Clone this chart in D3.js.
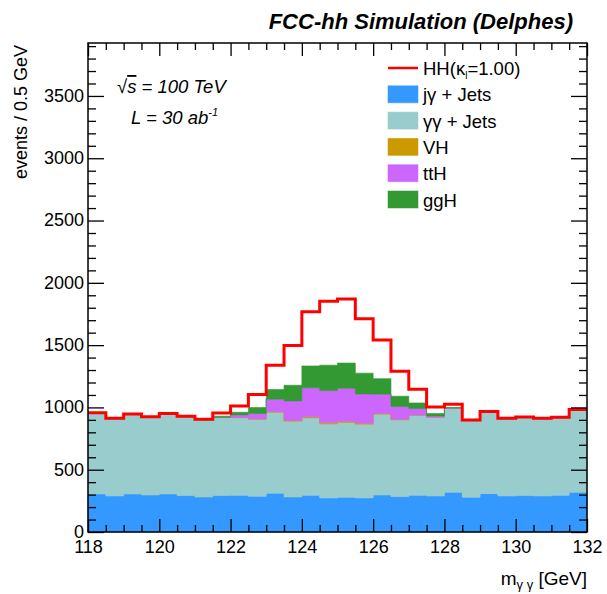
<!DOCTYPE html>
<html>
<head>
<meta charset="utf-8">
<script src="https://cdn.jsdelivr.net/npm/d3@7"></script>
<style>
  html, body { margin: 0; padding: 0; background: #fff; }
  svg { display: block; font-family: "Liberation Sans", Arial, Helvetica, sans-serif; }
</style>
</head>
<body>
<svg id="chart" width="607" height="594"></svg>
<script>
// Diphoton invariant mass, 28 bins of 0.5 GeV from 118 to 132 GeV
const binLow = d3.range(28).map(i => 118 + 0.5 * i);

// Background and single-Higgs components (events / bin), stacked bottom to top
const jgJets = [305,289,305,297,305,292,281,292,295,287,311,281,295,273,279,273,297,284,295,289,319,279,308,289,292,289,295,319];
const ggJets = [648,621,640,627,643,634,619,626,623,618,650,608,623,595,600,592,648,616,642,632,672,615,656,621,629,621,623,661];
const vh     = [0,0,0,0,0,0,0,1,2,3,4,6,8,10,10,8,6,4,2,1,1,0,0,0,0,0,0,0];
const ttH    = [0,0,0,0,0,0,1,3,20,43,101,157,231,257,265,235,155,103,52,10,3,1,0,0,0,0,0,0];
const ggH    = [0,0,0,0,0,0,1,8,21,48,77,126,176,204,202,167,125,83,45,19,5,1,0,0,0,0,0,0];
// Di-Higgs signal, drawn as an outline on top of the full stack
const hh     = [5,3,3,2,3,3,3,26,51,104,196,319,434,514,515,436,311,200,110,53,25,3,3,3,3,3,3,3];

const xMajorTicks = [118,120,122,124,126,128,130,132];
const yMajorTicks = [0,500,1000,1500,2000,2500,3000,3500];

const layers = [
  { key: "jg",  label: "jγ + Jets", values: jgJets, color: "#3399ff" },
  { key: "gg",  label: "γγ + Jets", values: ggJets, color: "#99cccc" },
  { key: "vh",  label: "VH",        values: vh,     color: "#cc9900" },
  { key: "tth", label: "ttH",       values: ttH,    color: "#cc66ff" },
  { key: "ggh", label: "ggH",       values: ggH,    color: "#339933" }
];

const frame = { left: 88, right: 587, top: 43, bottom: 532 };

const x = d3.scaleLinear().domain([118, 132]).range([frame.left, frame.right]);
const y = d3.scaleLinear().domain([0, 3925]).range([frame.bottom, frame.top]);

const svg = d3.select("#chart");

// Rows for the stack: one per bin plus a closing row at the upper edge
const rows = binLow.map((lo, i) => {
  const r = { x: lo };
  layers.forEach(l => r[l.key] = l.values[i]);
  return r;
});
rows.push(Object.assign({}, rows[rows.length - 1], { x: 132 }));

const stacked = d3.stack().keys(layers.map(l => l.key))(rows);

const area = d3.area()
  .curve(d3.curveStepAfter)
  .x(d => x(d.data.x))
  .y0(d => y(d[0]))
  .y1(d => y(d[1]));

svg.append("g").selectAll("path")
  .data(stacked)
  .join("path")
  .attr("d", area)
  .attr("fill", (d, i) => layers[i].color)
  .attr("stroke", (d, i) => layers[i].color)
  .attr("stroke-width", 0.6);

// Signal outline: full stack plus HH
const totals = rows.map((r, i) => {
  const idx = Math.min(i, hh.length - 1);
  return { x: r.x, v: layers.reduce((s, l) => s + r[l.key], 0) + hh[idx] };
});
svg.append("path")
  .attr("d", d3.line().curve(d3.curveStepAfter).x(d => x(d.x)).y(d => y(d.v))(totals))
  .attr("fill", "none")
  .attr("stroke", "#ff0000")
  .attr("stroke-width", 3);

// Axes: ticks drawn inward on all four sides
const xMinor = d3.range(118, 132.001, 0.5).filter(v => xMajorTicks.indexOf(v) < 0);
const yMinor = d3.range(0, 3901, 100).filter(v => yMajorTicks.indexOf(v) < 0);

function styleAxis(g) {
  g.select(".domain").remove();
  g.selectAll("line").attr("stroke", "#000").attr("stroke-width", 1.3);
  g.selectAll("text").attr("font-size", 18).attr("fill", "#000")
    .attr("font-family", "'Liberation Sans', Arial, sans-serif");
}

svg.append("g").attr("transform", `translate(0,${frame.bottom})`)
  .call(d3.axisBottom(x).tickValues(xMajorTicks).tickSize(-13).tickPadding(8).tickFormat(d3.format("d")))
  .call(styleAxis);
svg.append("g").attr("transform", `translate(0,${frame.bottom})`)
  .call(d3.axisBottom(x).tickValues(xMinor).tickSize(-7).tickFormat(""))
  .call(styleAxis);
svg.append("g").attr("transform", `translate(0,${frame.top})`)
  .call(d3.axisTop(x).tickValues(xMajorTicks).tickSize(-13).tickFormat(""))
  .call(styleAxis);
svg.append("g").attr("transform", `translate(0,${frame.top})`)
  .call(d3.axisTop(x).tickValues(xMinor).tickSize(-7).tickFormat(""))
  .call(styleAxis);

svg.append("g").attr("transform", `translate(${frame.left},0)`)
  .call(d3.axisLeft(y).tickValues(yMajorTicks).tickSize(-16).tickPadding(4).tickFormat(d3.format("d")))
  .call(styleAxis)
  .selectAll("text").attr("dy", "0.3em");
svg.append("g").attr("transform", `translate(${frame.left},0)`)
  .call(d3.axisLeft(y).tickValues(yMinor).tickSize(-8).tickFormat(""))
  .call(styleAxis);
svg.append("g").attr("transform", `translate(${frame.right},0)`)
  .call(d3.axisRight(y).tickValues(yMajorTicks).tickSize(-16).tickFormat(""))
  .call(styleAxis);
svg.append("g").attr("transform", `translate(${frame.right},0)`)
  .call(d3.axisRight(y).tickValues(yMinor).tickSize(-8).tickFormat(""))
  .call(styleAxis);

svg.append("rect")
  .attr("x", frame.left).attr("y", frame.top)
  .attr("width", frame.right - frame.left).attr("height", frame.bottom - frame.top)
  .attr("fill", "none").attr("stroke", "#000").attr("stroke-width", 1.5);

// Titles
svg.append("text")
  .attr("x", 573).attr("y", 29)
  .attr("text-anchor", "end")
  .attr("font-size", 22).attr("font-weight", "bold").attr("font-style", "italic")
  .text("FCC-hh Simulation (Delphes)");

svg.append("text")
  .attr("transform", "translate(27,45) rotate(-90)")
  .attr("text-anchor", "end")
  .attr("font-size", 18)
  .text("events / 0.5 GeV");

const xt = svg.append("text")
  .attr("x", frame.right).attr("y", 585)
  .attr("text-anchor", "end")
  .attr("font-size", 19);
xt.append("tspan").text("m");
xt.append("tspan").attr("font-size", 13).attr("dy", 4).text("γ γ");
xt.append("tspan").attr("dy", -4).text(" [GeV]");

// Energy and luminosity
const rs = svg.append("text")
  .attr("x", 117).attr("y", 93)
  .attr("font-size", 18.5).attr("font-style", "italic");
rs.append("tspan").attr("font-style", "normal").text("√");
rs.append("tspan").attr("text-decoration", "overline").text("s");
rs.append("tspan").text(" = 100 TeV");

const lum = svg.append("text")
  .attr("x", 131).attr("y", 124)
  .attr("font-size", 18.5).attr("font-style", "italic");
lum.append("tspan").text("L = 30 ab");
lum.append("tspan").attr("font-size", 11).attr("dy", -8).text("-1");

// Legend
const legend = svg.append("g");
const rowY = d3.scaleLinear().domain([0, 1]).range([68, 94.3]);
legend.append("line")
  .attr("x1", 388).attr("x2", 418).attr("y1", rowY(0)).attr("y2", rowY(0))
  .attr("stroke", "#ff0000").attr("stroke-width", 2.5);
const hl = legend.append("text").attr("x", 423).attr("y", rowY(0) + 7).attr("font-size", 18.5);
hl.append("tspan").text("HH(κ");
hl.append("tspan").attr("font-size", 10).attr("dy", 4).text("l");
hl.append("tspan").attr("dy", -4).text("=1.00)");

layers.forEach((l, i) => {
  const cy = rowY(i + 1);
  legend.append("rect")
    .attr("x", 388).attr("y", cy - 8.5).attr("width", 30).attr("height", 17)
    .attr("fill", l.color).attr("stroke", l.color).attr("stroke-opacity", 0.5);
  legend.append("text")
    .attr("x", 423).attr("y", cy + 7).attr("font-size", 18.5)
    .text(l.label);
});
</script>
</body>
</html>
